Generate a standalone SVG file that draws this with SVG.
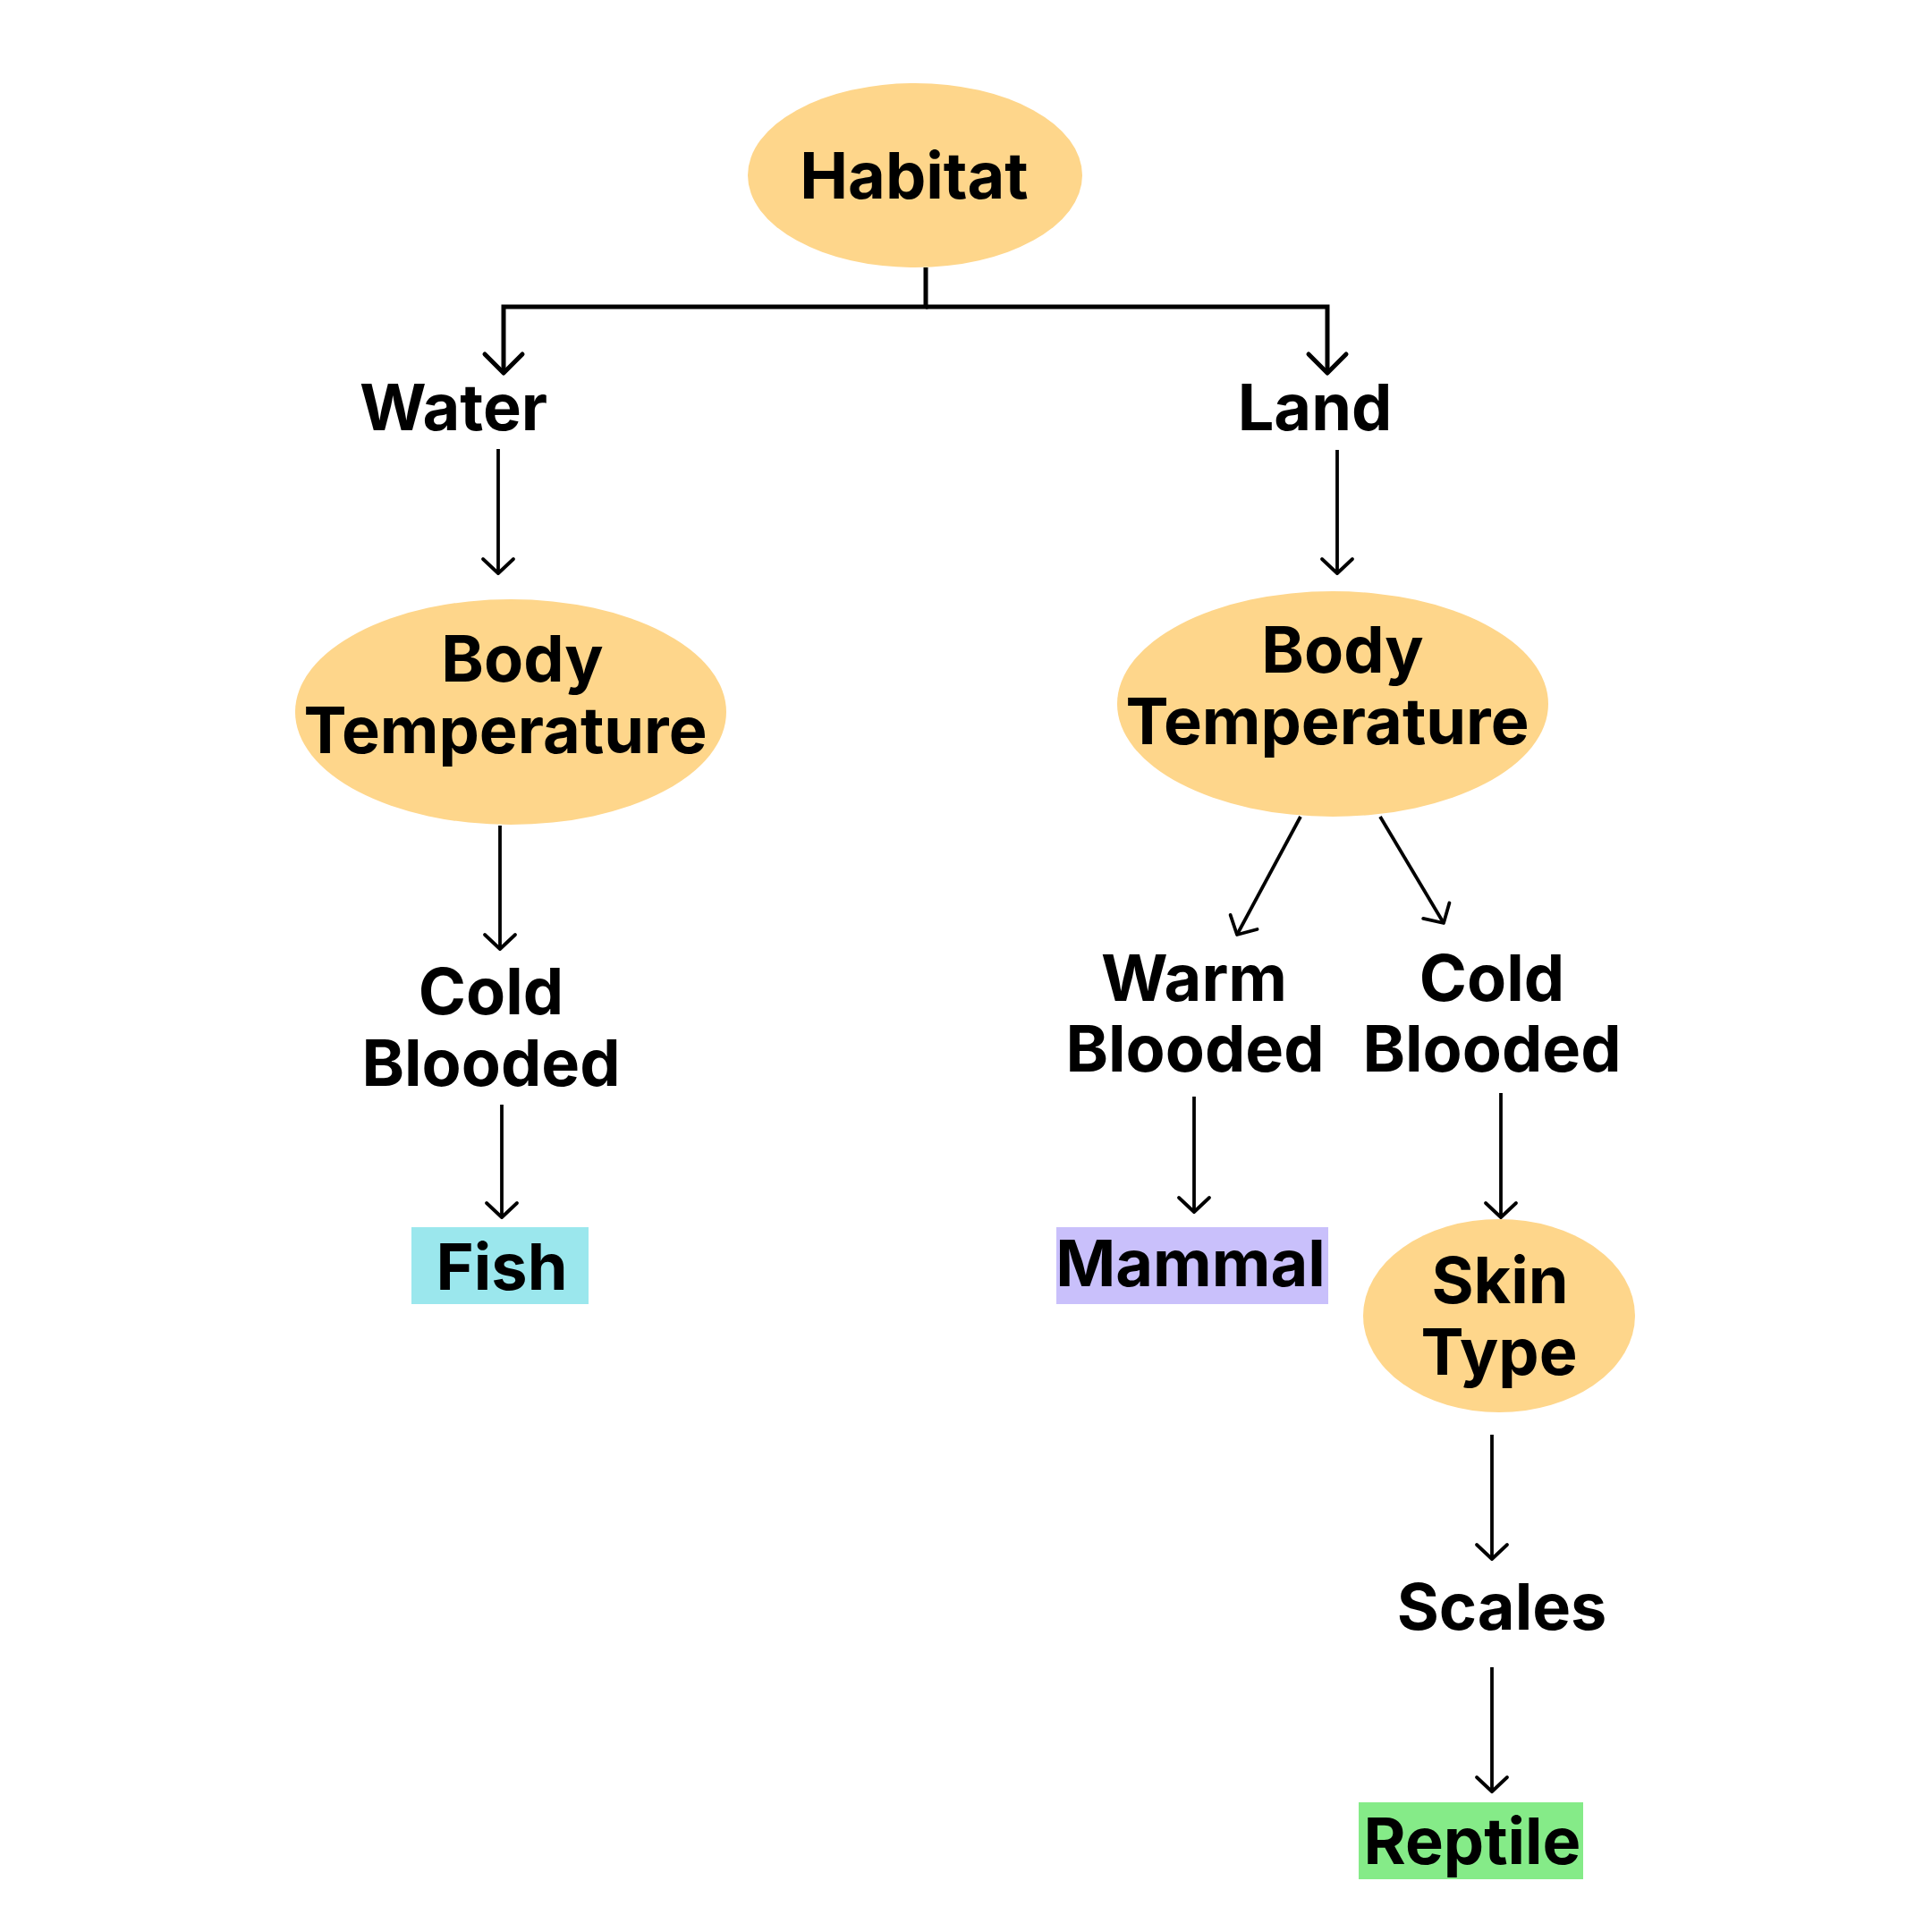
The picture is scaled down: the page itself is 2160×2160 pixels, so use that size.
<svg xmlns="http://www.w3.org/2000/svg" width="2160" height="2160" viewBox="0 0 2160 2160">
<style>
.lbl{font-family:Inter,"Noto Sans","Liberation Sans",sans-serif;font-weight:700;font-size:72px;fill:#000;text-anchor:middle}
.dec{fill:#FED68B}
.edge{fill:none;stroke:#000;stroke-width:3.8}
.edge2{fill:none;stroke:#000;stroke-width:5}
</style>
<defs>
<marker id="ah" markerUnits="userSpaceOnUse" markerWidth="50" markerHeight="50" viewBox="-25 -25 50 50" refX="0" refY="0" orient="auto">
<path d="M -16 -17 L 0 0 L -16 17" fill="none" stroke="#000" stroke-width="3.8" stroke-linecap="round" stroke-linejoin="round"/>
</marker>
<marker id="ah2" markerUnits="userSpaceOnUse" markerWidth="60" markerHeight="60" viewBox="-30 -30 60 60" refX="0" refY="0" orient="auto">
<path d="M -21 -21 L 0 0 L -21 21" fill="none" stroke="#000" stroke-width="5" stroke-linecap="round" stroke-linejoin="round"/>
</marker>
</defs>
<rect width="2160" height="2160" fill="#fff"/>
<g id="connectors">
<path class="edge2" d="M 1035 299 V 343 H 563 V 417" marker-end="url(#ah2)"/>
<path class="edge2" d="M 1035 343 H 1484 V 417" marker-end="url(#ah2)"/>
<path class="edge" d="M 557 502 V 641" marker-end="url(#ah)"/>
<path class="edge" d="M 1495 503 V 641" marker-end="url(#ah)"/>
<path class="edge" d="M 559 923 V 1061" marker-end="url(#ah)"/>
<path class="edge" d="M 1454 913 L 1383 1045" marker-end="url(#ah)"/>
<path class="edge" d="M 1543 913 L 1614 1032" marker-end="url(#ah)"/>
<path class="edge" d="M 561 1235 V 1361" marker-end="url(#ah)"/>
<path class="edge" d="M 1335 1226 V 1355" marker-end="url(#ah)"/>
<path class="edge" d="M 1678 1222 V 1361" marker-end="url(#ah)"/>
<path class="edge" d="M 1668 1604 V 1743" marker-end="url(#ah)"/>
<path class="edge" d="M 1668 1864 V 2003" marker-end="url(#ah)"/>
</g>
<g id="habitat"><ellipse class="dec" cx="1023" cy="196" rx="187" ry="103"/><text class="lbl" x="1022" y="222">Habitat</text></g>
<g id="water"><text class="lbl" x="507" y="481">Water</text></g>
<g id="land"><text class="lbl" x="1470" y="481">Land</text></g>
<g id="bodytemp-water"><ellipse class="dec" cx="571" cy="796" rx="241" ry="126"/><text class="lbl" x="584" y="762">Body</text><text class="lbl" x="565" y="842">Temperature</text></g>
<g id="bodytemp-land"><ellipse class="dec" cx="1490" cy="787" rx="241" ry="126"/><text class="lbl" x="1501" y="752">Body</text><text class="lbl" x="1484" y="832">Temperature</text></g>
<g id="cold-water"><text class="lbl" x="549" y="1134">Cold</text><text class="lbl" x="549" y="1214">Blooded</text></g>
<g id="warm-land"><text class="lbl" x="1335" y="1119">Warm</text><text class="lbl" x="1336" y="1198">Blooded</text></g>
<g id="cold-land"><text class="lbl" x="1668" y="1119">Cold</text><text class="lbl" x="1668" y="1198">Blooded</text></g>
<g id="fish"><rect x="460" y="1372" width="198" height="86" fill="#9BE7ED"/><text class="lbl" x="561" y="1442">Fish</text></g>
<g id="mammal"><rect x="1181" y="1372" width="304" height="86" fill="#C9C0FB"/><text class="lbl" x="1331" y="1438">Mammal</text></g>
<g id="skintype"><ellipse class="dec" cx="1676" cy="1471" rx="152" ry="108"/><text class="lbl" x="1677" y="1457">Skin</text><text class="lbl" x="1676" y="1537">Type</text></g>
<g id="scales"><text class="lbl" x="1679" y="1822">Scales</text></g>
<g id="reptile"><rect x="1519" y="2015" width="251" height="86" fill="#85EB88"/><text class="lbl" x="1646" y="2084">Reptile</text></g>
</svg>
